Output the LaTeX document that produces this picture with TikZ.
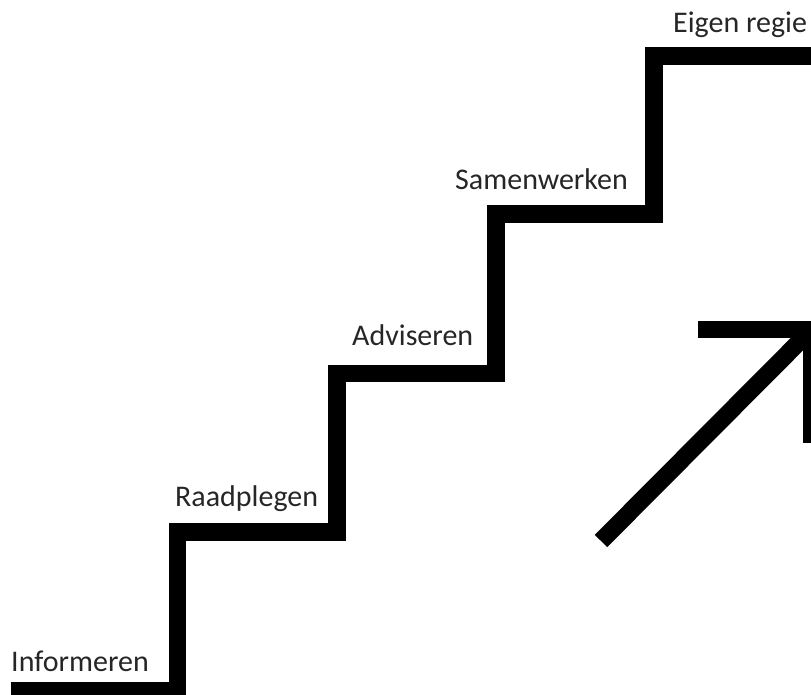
\documentclass[tikz,border=0pt]{standalone}
\usepackage{fontspec}
\usetikzlibrary{calc}
\setmainfont{Carlito}
\begin{document}
\begin{tikzpicture}[x=1pt,y=-1pt,
  stairline/.style={line width=17.5pt, line join=miter, line cap=butt, draw=black},
  steplabel/.style={anchor=base west, inner sep=0pt, font=\fontsize{30}{34}\selectfont, text=black!85}]
\useasboundingbox (0,0) rectangle (811,695);
\clip (0,0) rectangle (811,695);
% staircase
\draw[stairline] (11,691) -- (177.5,691) -- (177.5,532) -- (337,532) -- (337,373.5)
  -- (496,373.5) -- (496,214) -- (654,214) -- (654,56) -- (830,56);
% arrow
\coordinate (tail) at (601,541);
\coordinate (tip) at (811.5,329.5);
\draw[stairline] (698,329.5) -- (tip) -- (811.5,443);
\draw[stairline] (tail) -- ($(tail)!0.97!(tip)$);
% labels
\node[steplabel] (l1) at (11,671) {Informeren};
\node[steplabel] (l2) at (175,506) {Raadplegen};
\node[steplabel] (l3) at (352,345) {Adviseren};
\node[steplabel] (l4) at (455,190) {Samenwerken};
\node[steplabel] (l5) at (673,33) {Eigen regie};
\end{tikzpicture}
\end{document}
